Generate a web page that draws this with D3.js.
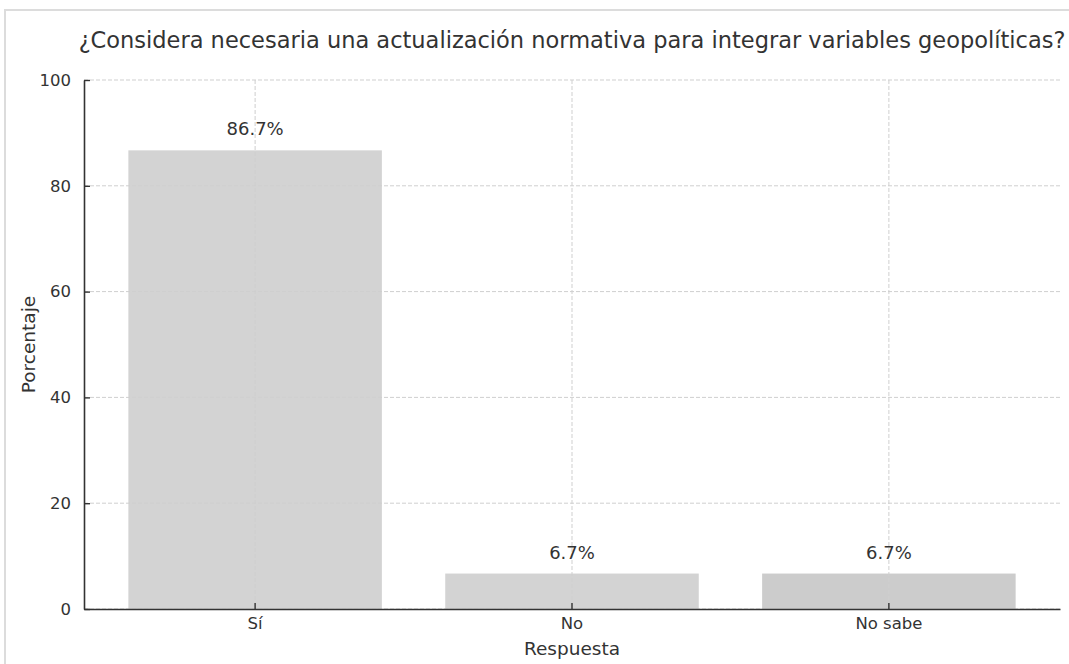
<!DOCTYPE html>
<html>
<head>
<meta charset="utf-8">
<script src="https://cdn.jsdelivr.net/npm/d3@7"></script>
<style>
  body { margin: 0; background: #fff; }
  svg text { font-family: "DejaVu Sans", sans-serif; fill: #333; }
</style>
</head>
<body>
<div id="chart"></div>
<script>
const categories = ["Sí", "No", "No sabe"];
const values = [86.7, 6.7, 6.7];
const barColors = ["#d3d3d3", "#d3d3d3", "#cccccc"];
const yTicks = [0, 20, 40, 60, 80, 100];
const title = "¿Considera necesaria una actualización normativa para integrar variables geopolíticas?";

const W = 1069, H = 664;
const margin = { top: 80, right: 9, bottom: 55, left: 84 };
const width = W - margin.left - margin.right,
    height = H - margin.top - margin.bottom;

const root = d3.select("#chart").append("svg")
    .attr("width", W)
    .attr("height", H);

// outer frame
root.append("rect")
    .attr("x", 5).attr("y", 10)
    .attr("width", W + 20).attr("height", H + 20)
    .attr("fill", "none")
    .attr("stroke", "#dcdcdc")
    .attr("stroke-width", 2);

const svg = root.append("g")
    .attr("transform", `translate(${margin.left},${margin.top})`);

const x = d3.scaleBand()
    .domain(categories)
    .range([0, width])
    .paddingInner(0.2)
    .paddingOuter(0.14);

const y = d3.scaleLinear()
    .domain([0, 100])
    .range([height, 0]);

const data = categories.map((c, i) => ({ cat: c, value: values[i], color: barColors[i] }));

svg.selectAll("rect.bar")
    .data(data)
    .enter()
    .append("rect")
    .attr("class", "bar")
    .attr("x", d => x(d.cat))
    .attr("y", d => y(d.value))
    .attr("width", x.bandwidth())
    .attr("height", d => height - y(d.value))
    .attr("fill", d => d.color);

// grid on top of bars
svg.selectAll("line.hgrid")
    .data(yTicks)
    .enter()
    .append("line")
    .attr("class", "hgrid")
    .attr("x1", 0).attr("x2", width)
    .attr("y1", d => y(d)).attr("y2", d => y(d))
    .attr("stroke", "#cfcfcf")
    .attr("stroke-width", 1)
    .attr("stroke-dasharray", "4,2");

svg.selectAll("line.vgrid")
    .data(categories)
    .enter()
    .append("line")
    .attr("class", "vgrid")
    .attr("x1", d => x(d) + x.bandwidth() / 2)
    .attr("x2", d => x(d) + x.bandwidth() / 2)
    .attr("y1", 0).attr("y2", height)
    .attr("stroke", "#cfcfcf")
    .attr("stroke-width", 1)
    .attr("stroke-dasharray", "4,2");

const yAxis = d3.axisLeft(y)
    .tickValues(yTicks)
    .tickSizeInner(-6)
    .tickSizeOuter(0)
    .tickPadding(13);
const yg = svg.append("g").call(yAxis);

const xAxis = d3.axisBottom(x)
    .tickSizeInner(-6)
    .tickSizeOuter(0)
    .tickPadding(8);
const xg = svg.append("g")
    .attr("transform", `translate(0,${height})`)
    .call(xAxis);

[yg, xg].forEach(g => {
    g.select(".domain").attr("stroke", "#333").attr("stroke-width", 1.6);
    g.selectAll(".tick line").attr("stroke", "#333").attr("stroke-width", 1.4);
    g.selectAll(".tick text")
        .style("font-family", "DejaVu Sans, sans-serif")
        .style("font-size", "16.5px")
        .attr("fill", "#333");
});

svg.selectAll("text.val")
    .data(data)
    .enter()
    .append("text")
    .attr("class", "val")
    .attr("x", d => x(d.cat) + x.bandwidth() / 2)
    .attr("y", d => y(d.value) - 15)
    .attr("text-anchor", "middle")
    .style("font-size", "18px")
    .text(d => d.value.toFixed(1) + "%");

svg.append("text")
    .attr("x", width / 2)
    .attr("y", height + 46)
    .attr("text-anchor", "middle")
    .style("font-size", "18.5px")
    .text("Respuesta");

svg.append("text")
    .attr("transform", "rotate(-90)")
    .attr("x", -height / 2)
    .attr("y", -margin.left + 35)
    .attr("text-anchor", "middle")
    .style("font-size", "18.5px")
    .text("Porcentaje");

root.append("text")
    .attr("x", margin.left + width / 2)
    .attr("y", 48)
    .attr("text-anchor", "middle")
    .style("font-size", "22.5px")
    .text(title);
</script>
</body>
</html>
